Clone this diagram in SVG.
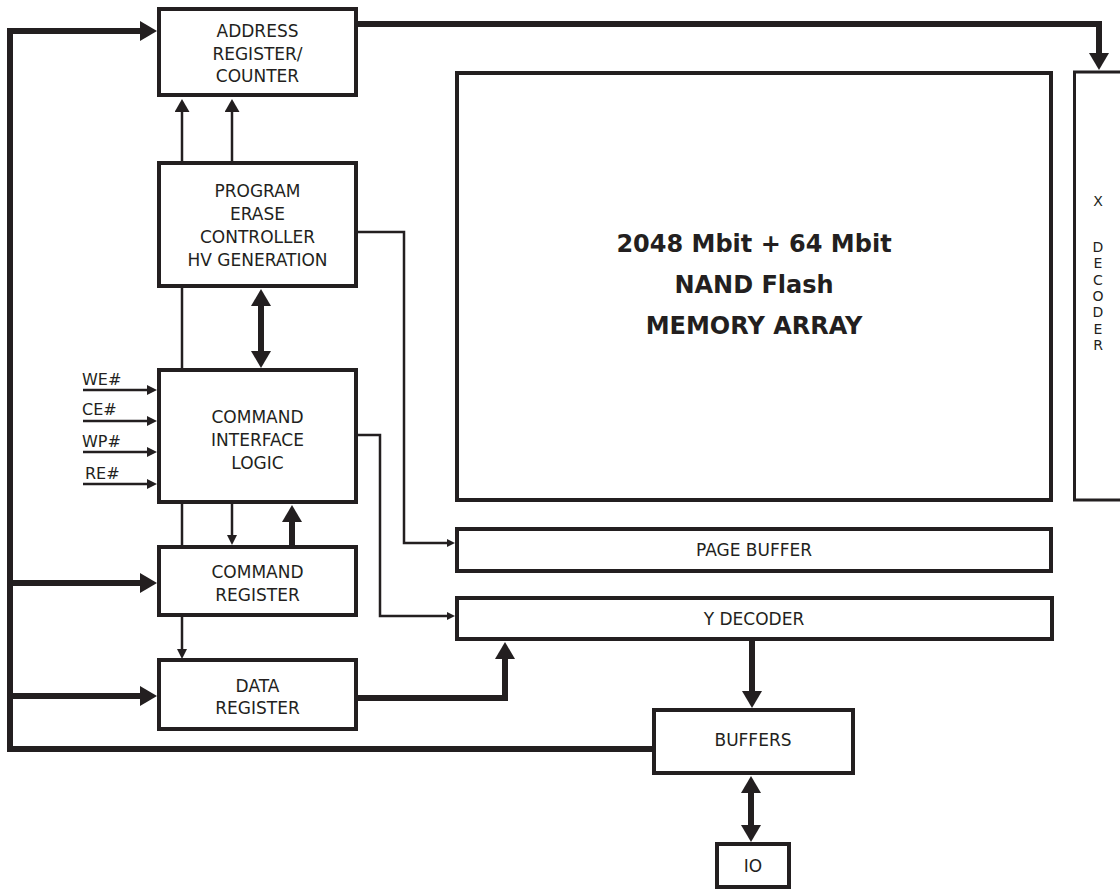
<svg xmlns="http://www.w3.org/2000/svg" width="1120" height="891" viewBox="0 0 1120 891">
<style>
.box{fill:#fff;stroke:#231f20;stroke-width:4}
.t{font-family:"DejaVu Sans",Verdana,sans-serif;font-size:17px;fill:#231f20;text-anchor:middle}
.xd{font-family:"DejaVu Sans",Verdana,sans-serif;font-size:14px;fill:#231f20;text-anchor:middle}
.lbl{font-family:"DejaVu Sans",Verdana,sans-serif;font-size:16px;fill:#231f20}
.big{font-family:"DejaVu Sans",Verdana,sans-serif;font-size:24px;font-weight:bold;fill:#231f20;text-anchor:middle}
.thick{fill:none;stroke:#231f20;stroke-width:6;stroke-linejoin:miter}
.thin{fill:none;stroke:#231f20;stroke-width:2.5}
</style>
<defs>
<marker id="ah" markerUnits="userSpaceOnUse" markerWidth="18" markerHeight="20" refX="1" refY="10" orient="auto-start-reverse"><path d="M0,0 L17,10 L0,20 Z" fill="#231f20"/></marker>
<marker id="a15" markerUnits="userSpaceOnUse" markerWidth="14" markerHeight="15" refX="1" refY="7.5" orient="auto"><path d="M0,0 L13,7.5 L0,15 Z" fill="#231f20"/></marker>
<marker id="a10" markerUnits="userSpaceOnUse" markerWidth="11" markerHeight="10" refX="1" refY="5" orient="auto"><path d="M0,0 L10,5 L0,10 Z" fill="#231f20"/></marker>
<marker id="a8" markerUnits="userSpaceOnUse" markerWidth="9" markerHeight="8" refX="1" refY="4" orient="auto"><path d="M0,0 L8,4 L0,8 Z" fill="#231f20"/></marker>
</defs>
<rect width="1120" height="891" fill="#fff"/>

<g id="connectors">
  <path class="thick" d="M654,749 H10 V31 H141" marker-end="url(#ah)"/>
  <path class="thick" d="M10,583 H141" marker-end="url(#ah)"/>
  <path class="thick" d="M10,696 H141" marker-end="url(#ah)"/>
  <path class="thick" d="M356,24 H1099 V54" marker-end="url(#ah)"/>
  <path class="thin" d="M182,163 V111" marker-end="url(#a15)"/>
  <path class="thin" d="M232,163 V111" marker-end="url(#a15)"/>
  <path class="thin" d="M182,286 V370"/>
  <path class="thin" d="M182,502 V547"/>
  <path class="thick" d="M261,305 V352" marker-start="url(#ah)" marker-end="url(#ah)"/>
  <path class="thin" d="M356,232 H404 V543 H448" marker-end="url(#a8)"/>
  <path class="thin" d="M356,435 H380 V616 H448" marker-end="url(#a8)"/>
  <path class="thin" d="M232,502 V536" marker-end="url(#a10)"/>
  <path class="thick" d="M292,547 V521" marker-end="url(#ah)"/>
  <path class="thin" d="M182,615 V650" marker-end="url(#a10)"/>
  <path class="thick" d="M356,698 H505 V658" marker-end="url(#ah)"/>
  <path class="thick" d="M752,639 V692" marker-end="url(#ah)"/>
  <path class="thick" d="M751,792 V826" marker-start="url(#ah)" marker-end="url(#ah)"/>
  <path class="thin" d="M83,390 H148" marker-end="url(#a10)"/>
  <path class="thin" d="M83,421 H148" marker-end="url(#a10)"/>
  <path class="thin" d="M83,452 H148" marker-end="url(#a10)"/>
  <path class="thin" d="M83,484 H148" marker-end="url(#a10)"/>
</g>

<g id="signals">
  <text class="lbl" x="82" y="385">WE#</text>
  <text class="lbl" x="82" y="415">CE#</text>
  <text class="lbl" x="82" y="447">WP#</text>
  <text class="lbl" x="85" y="479">RE#</text>
</g>

<g id="address-register">
  <rect class="box" x="159" y="9" width="197" height="86"/>
  <text class="t" x="257.5" y="37">ADDRESS</text>
  <text class="t" x="257.5" y="60">REGISTER/</text>
  <text class="t" x="257.5" y="82">COUNTER</text>
</g>

<g id="program-erase-controller">
  <rect class="box" x="159" y="163" width="197" height="123"/>
  <text class="t" x="257.5" y="197">PROGRAM</text>
  <text class="t" x="257.5" y="220">ERASE</text>
  <text class="t" x="257.5" y="243">CONTROLLER</text>
  <text class="t" x="257.5" y="266">HV GENERATION</text>
</g>

<g id="command-interface-logic">
  <rect class="box" x="159" y="370" width="197" height="132"/>
  <text class="t" x="257.5" y="423">COMMAND</text>
  <text class="t" x="257.5" y="446">INTERFACE</text>
  <text class="t" x="257.5" y="469">LOGIC</text>
</g>

<g id="command-register">
  <rect class="box" x="159" y="547" width="197" height="68"/>
  <text class="t" x="257.5" y="578">COMMAND</text>
  <text class="t" x="257.5" y="601">REGISTER</text>
</g>

<g id="data-register">
  <rect class="box" x="159" y="660" width="197" height="69"/>
  <text class="t" x="257.5" y="692">DATA</text>
  <text class="t" x="257.5" y="714">REGISTER</text>
</g>

<g id="memory-array">
  <rect class="box" x="457" y="73" width="594" height="427"/>
  <text class="big" x="754" y="252">2048 Mbit + 64 Mbit</text>
  <text class="big" x="754" y="293">NAND Flash</text>
  <text class="big" x="754" y="334">MEMORY ARRAY</text>
</g>

<g id="x-decoder">
  <rect class="box" style="stroke-width:3" x="1074.5" y="72" width="60" height="428"/>
  <text class="xd" x="1098" y="206">X</text>
  <text class="xd" x="1098" y="252">D</text>
  <text class="xd" x="1098" y="268.3">E</text>
  <text class="xd" x="1098" y="284.6">C</text>
  <text class="xd" x="1098" y="300.9">O</text>
  <text class="xd" x="1098" y="317.2">D</text>
  <text class="xd" x="1098" y="333.5">E</text>
  <text class="xd" x="1098" y="349.8">R</text>
</g>

<g id="page-buffer">
  <rect class="box" x="457" y="529" width="594" height="42"/>
  <text class="t" x="754" y="556">PAGE BUFFER</text>
</g>

<g id="y-decoder">
  <rect class="box" x="457" y="598" width="595" height="41"/>
  <text class="t" x="754" y="625">Y DECODER</text>
</g>

<g id="buffers">
  <rect class="box" x="654" y="710" width="199" height="63"/>
  <text class="t" x="753" y="746">BUFFERS</text>
</g>

<g id="io">
  <rect class="box" x="717" y="844" width="72" height="43"/>
  <text class="t" x="753" y="872">IO</text>
</g>
</svg>
